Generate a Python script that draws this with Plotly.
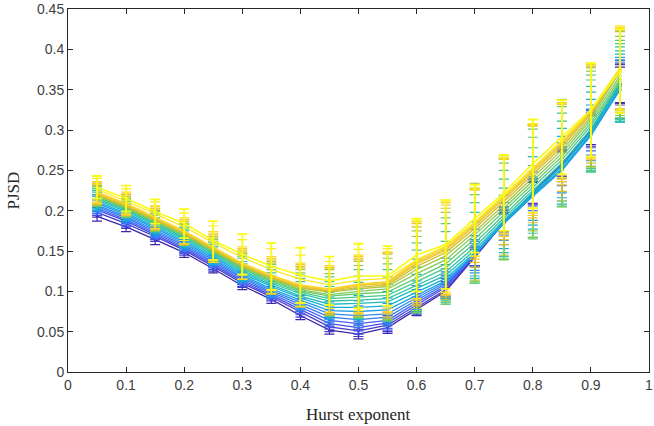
import plotly.graph_objects as go

hurst = [0.05, 0.10, 0.15, 0.20, 0.25, 0.30, 0.35, 0.40, 0.45, 0.50,
         0.55, 0.60, 0.65, 0.70, 0.75, 0.80, 0.85, 0.90, 0.95]

pjsd_means = [
    [.193, .180, .164, .148, .128, .107, .090, .070, .052, .047, .055, .078, .100, .142, .185, .222, .258, .300, .356],
    [.198, .184, .168, .151, .131, .110, .093, .074, .056, .051, .058, .080, .102, .143, .186, .222, .258, .300, .357],
    [.201, .187, .170, .153, .133, .112, .095, .077, .060, .055, .061, .083, .105, .144, .186, .222, .258, .300, .357],
    [.203, .189, .172, .155, .135, .114, .097, .080, .064, .060, .064, .086, .107, .145, .186, .221, .257, .299, .356],
    [.205, .191, .174, .157, .137, .116, .099, .083, .068, .065, .068, .089, .109, .146, .186, .220, .255, .297, .354],
    [.207, .193, .176, .159, .139, .118, .101, .086, .072, .070, .072, .092, .111, .145, .184, .218, .250, .294, .350],
    [.209, .195, .178, .161, .141, .120, .103, .089, .076, .075, .077, .095, .113, .146, .184, .218, .250, .293, .350],
    [.211, .197, .180, .163, .143, .122, .106, .092, .080, .080, .082, .099, .116, .148, .186, .219, .252, .295, .352],
    [.213, .199, .182, .165, .145, .124, .108, .094, .084, .085, .087, .103, .120, .151, .188, .222, .255, .298, .354],
    [.215, .201, .184, .167, .147, .126, .110, .097, .088, .089, .091, .107, .124, .155, .191, .225, .259, .301, .357],
    [.216, .202, .185, .168, .148, .128, .112, .099, .091, .093, .095, .112, .129, .160, .195, .229, .263, .305, .360],
    [.217, .203, .186, .169, .149, .129, .114, .101, .094, .097, .099, .117, .134, .165, .199, .233, .267, .309, .363],
    [.218, .204, .187, .170, .150, .130, .115, .102, .096, .100, .103, .122, .139, .170, .203, .237, .271, .313, .367],
    [.219, .205, .188, .171, .151, .131, .116, .104, .099, .103, .106, .127, .144, .174, .207, .241, .275, .316, .372],
    [.220, .206, .189, .172, .152, .132, .117, .105, .100, .105, .108, .131, .148, .178, .211, .245, .279, .319, .374],
    [.221, .207, .190, .173, .153, .133, .118, .106, .101, .107, .110, .134, .151, .181, .214, .248, .282, .321, .375],
    [.222, .208, .191, .174, .154, .134, .119, .107, .102, .108, .111, .136, .153, .183, .216, .250, .284, .323, .376],
    [.223, .209, .192, .175, .155, .135, .120, .108, .103, .109, .112, .138, .155, .185, .218, .252, .286, .324, .376],
    [.226, .212, .196, .180, .160, .142, .127, .115, .108, .114, .116, .139, .156, .186, .219, .253, .287, .325, .377],
    [.229, .215, .199, .184, .163, .146, .131, .120, .113, .119, .119, .145, .158, .190, .222, .258, .291, .325, .373],
]

pjsd_errors = [
    [.006, .006, .006, .006, .005, .005, .005, .005, .005, .006, .007, .008, .009, .010, .011, .013, .015, .018, .022],
    [.006, .006, .006, .006, .006, .005, .005, .006, .006, .007, .008, .009, .010, .011, .012, .014, .016, .020, .024],
    [.007, .007, .006, .006, .006, .006, .006, .006, .007, .008, .009, .010, .011, .012, .014, .016, .018, .022, .026],
    [.007, .007, .007, .007, .006, .006, .006, .007, .008, .009, .010, .011, .013, .014, .016, .018, .021, .025, .030],
    [.008, .007, .007, .007, .007, .007, .007, .008, .009, .010, .011, .013, .015, .016, .018, .020, .024, .028, .033],
    [.008, .008, .008, .008, .007, .007, .008, .009, .010, .012, .013, .015, .017, .019, .021, .024, .028, .032, .036],
    [.009, .008, .008, .008, .008, .008, .009, .010, .011, .013, .015, .018, .020, .023, .026, .030, .034, .038, .040],
    [.009, .009, .009, .009, .009, .009, .010, .011, .013, .015, .018, .022, .025, .029, .033, .037, .040, .043, .042],
    [.010, .009, .009, .010, .010, .010, .011, .013, .015, .018, .022, .027, .031, .035, .040, .045, .047, .049, .044],
    [.010, .010, .010, .010, .011, .011, .013, .015, .018, .022, .027, .033, .038, .043, .048, .053, .052, .053, .046],
    [.011, .010, .011, .011, .012, .013, .015, .017, .021, .026, .032, .039, .045, .050, .055, .062, .058, .057, .047],
    [.011, .011, .011, .012, .013, .014, .016, .019, .024, .030, .035, .043, .050, .055, .060, .068, .062, .059, .048],
    [.012, .011, .012, .013, .014, .015, .018, .021, .026, .032, .038, .046, .052, .058, .063, .070, .066, .060, .049],
    [.012, .012, .012, .013, .015, .016, .019, .023, .028, .034, .040, .048, .054, .060, .062, .066, .063, .061, .050],
    [.012, .012, .013, .014, .016, .017, .020, .024, .029, .034, .040, .049, .055, .048, .053, .060, .055, .060, .050],
    [.013, .013, .013, .014, .017, .018, .021, .025, .028, .034, .038, .050, .056, .045, .050, .057, .050, .058, .049],
    [.013, .013, .014, .015, .018, .019, .022, .026, .028, .035, .037, .050, .057, .043, .048, .056, .048, .058, .050],
    [.013, .014, .014, .016, .019, .020, .023, .027, .029, .036, .037, .049, .057, .042, .047, .055, .047, .058, .051],
    [.014, .015, .015, .017, .021, .022, .026, .030, .029, .038, .037, .048, .057, .042, .047, .055, .046, .058, .052],
    [.014, .016, .015, .018, .024, .025, .029, .034, .030, .040, .037, .045, .055, .042, .047, .055, .046, .058, .052],
]

x_tick_vals = [0, 0.1, 0.2, 0.3, 0.4, 0.5, 0.6, 0.7, 0.8, 0.9, 1]
x_tick_text = ["0", "0.1", "0.2", "0.3", "0.4", "0.5", "0.6", "0.7", "0.8", "0.9", "1"]
y_tick_vals = [0, 0.05, 0.1, 0.15, 0.2, 0.25, 0.3, 0.35, 0.4, 0.45]
y_tick_text = ["0", "0.05", "0.1", "0.15", "0.2", "0.25", "0.3", "0.35", "0.4", "0.45"]

# parula colormap anchors
parula = [
    (0.000, (0.2422, 0.1504, 0.6603)),
    (0.125, (0.2810, 0.3228, 0.9579)),
    (0.250, (0.1786, 0.5289, 0.9682)),
    (0.375, (0.0689, 0.6948, 0.8394)),
    (0.500, (0.2161, 0.7843, 0.5923)),
    (0.625, (0.5044, 0.7993, 0.3480)),
    (0.750, (0.8634, 0.7406, 0.1596)),
    (0.875, (0.9892, 0.8137, 0.1885)),
    (1.000, (0.9769, 0.9839, 0.0805)),
]


def parula_color(t):
    for (t0, c0), (t1, c1) in zip(parula[:-1], parula[1:]):
        if t <= t1:
            f = (t - t0) / (t1 - t0) if t1 > t0 else 0
            c = [c0[k] + f * (c1[k] - c0[k]) for k in range(3)]
            return "rgb(%d,%d,%d)" % tuple(round(v * 255) for v in c)
    c = parula[-1][1]
    return "rgb(%d,%d,%d)" % tuple(round(v * 255) for v in c)


fig = go.Figure()
n = len(pjsd_means)
for i, (m, e) in enumerate(zip(pjsd_means, pjsd_errors)):
    col = parula_color(i / (n - 1))
    last = i == n - 1
    fig.add_trace(go.Scatter(
        x=hurst, y=m, mode="lines+markers",
        line=dict(color=col, width=1.6 if last else 1.3),
        marker=dict(color=col, size=3),
        error_y=dict(type="data", array=e, visible=True, color=col,
                     thickness=1.8 if last else 1.2, width=5),
        showlegend=False,
    ))

axis_col = "#262626"
tick_font = dict(family="Liberation Sans, Arial, sans-serif", size=14, color="#404040")

fig.update_layout(
    width=654, height=426,
    margin=dict(l=68, r=1, t=6, b=54),
    paper_bgcolor="white", plot_bgcolor="white",
    xaxis=dict(range=[0, 1], tickvals=x_tick_vals, ticktext=x_tick_text,
               ticks="inside", ticklen=5, tickcolor=axis_col, mirror="allticks",
               showline=True, linecolor=axis_col, linewidth=1,
               ticklabeloverflow="allow",
               showgrid=False, zeroline=False, tickfont=tick_font),
    yaxis=dict(range=[0, 0.45], tickvals=y_tick_vals, ticktext=y_tick_text,
               ticks="inside", ticklen=5, tickcolor=axis_col, mirror="allticks",
               showline=True, linecolor=axis_col, linewidth=1,
               ticklabeloverflow="allow",
               showgrid=False, zeroline=False, tickfont=tick_font),
    annotations=[
        dict(text="Hurst exponent", xref="paper", yref="paper", x=0.5, y=-0.085,
             xanchor="center", yanchor="top", showarrow=False,
             font=dict(family="Liberation Serif, DejaVu Serif, serif", size=17, color="#262626")),
        dict(text="PJSD", xref="paper", yref="paper", x=-0.093, y=0.5,
             xanchor="center", yanchor="middle", textangle=-90, showarrow=False,
             font=dict(family="Liberation Serif, DejaVu Serif, serif", size=17, color="#262626")),
    ],
)

fig.write_html("out.html")
